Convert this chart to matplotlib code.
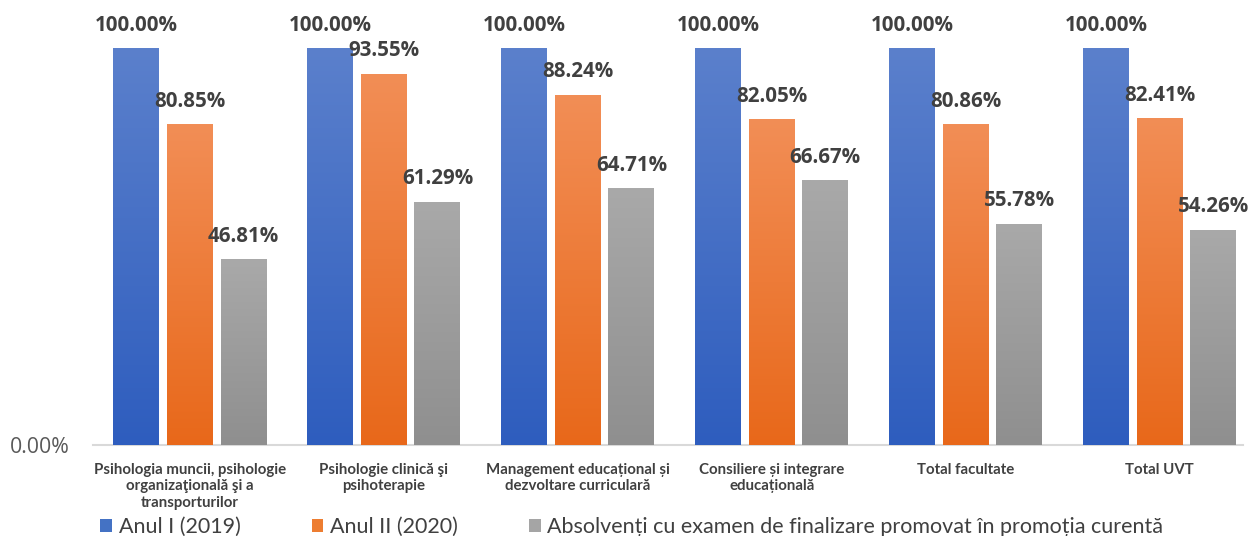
import matplotlib
matplotlib.use("Agg")
import matplotlib.pyplot as plt
import numpy as np
from matplotlib.colors import LinearSegmentedColormap
from matplotlib.patches import Patch

categories = [
    "Psihologia muncii, psihologie\norganizaţională şi a\ntransporturilor",
    "Psihologie clinică şi\npsihoterapie",
    "Management educațional și\ndezvoltare curriculară",
    "Consiliere și integrare\neducațională",
    "Total facultate",
    "Total UVT",
]
series_names = [
    "Anul I (2019)",
    "Anul II (2020)",
    "Absolvenți cu examen de finalizare promovat în promoția curentă",
]
anul1 = [100.00, 100.00, 100.00, 100.00, 100.00, 100.00]
anul2 = [80.85, 93.55, 88.24, 82.05, 80.86, 82.41]
absolventi = [46.81, 61.29, 64.71, 66.67, 55.78, 54.26]

top_colors = ["#5B80CC", "#F28E56", "#A9A9A9"]
bot_colors = ["#2E5DBE", "#E8681A", "#8F8F8F"]
mid_colors = ["#4472C4", "#ED7D31", "#A5A5A5"]

plt.rcParams["font.family"] = ["Lato", "DejaVu Sans"]

fig = plt.figure(figsize=(12.51, 5.36), dpi=100)
ax = fig.add_axes([93 / 1251, (536 - 445) / 536, (1243 - 93) / 1251, 445 / 536])

x = np.arange(len(categories))
width = 0.237
step = 0.276
series = [anul1, anul2, absolventi]
for i, vals in enumerate(series):
    offs = (i - 1) * step
    bars = ax.bar(x + offs, vals, width=width, color=mid_colors[i], zorder=2)
    cmap = LinearSegmentedColormap.from_list("g%d" % i, [bot_colors[i], top_colors[i]])
    grad = np.linspace(0, 1, 256).reshape(-1, 1)
    for b, v in zip(bars, vals):
        x0 = b.get_x()
        im = ax.imshow(grad, extent=[x0, x0 + b.get_width(), 0, v], origin="lower",
                       aspect="auto", cmap=cmap, zorder=3)
        im.set_clip_path(b)
        ax.text(x0 + b.get_width() / 2, v + 3.1, "%.2f%%" % v, ha="center", va="bottom",
                fontsize=14.8, fontweight="bold", color="#404040", zorder=5,
                family=["Open Sans", "DejaVu Sans"])

ax.set_xlim(-0.5, 5.43)
ax.set_ylim(0, 112.1)
ax.set_yticks([0])
ax.set_yticklabels(["0.00%"], fontsize=15.3, color="#595959", family=["Open Sans", "DejaVu Sans"])
ax.set_xticks(x)
ax.set_xticklabels(categories, fontsize=10.8, fontweight="bold", color="#404040", linespacing=1.22)
ax.tick_params(axis="x", length=0, pad=13)
ax.tick_params(axis="y", length=0, pad=16.5)
for s in ["top", "right", "left"]:
    ax.spines[s].set_visible(False)
ax.spines["bottom"].set_color("#D9D9D9")
ax.spines["bottom"].set_linewidth(1.5)

handles = [Patch(facecolor=mid_colors[i], edgecolor="none") for i in range(3)]
fig.legend(handles, series_names, loc="lower center", bbox_to_anchor=(0.505, -0.038), ncol=3,
           frameon=False, fontsize=15.5, handlelength=0.55, handleheight=0.55, handletextpad=0.3,
           columnspacing=3.3, labelcolor="#404040")

fig.savefig("out.png", dpi=100)
